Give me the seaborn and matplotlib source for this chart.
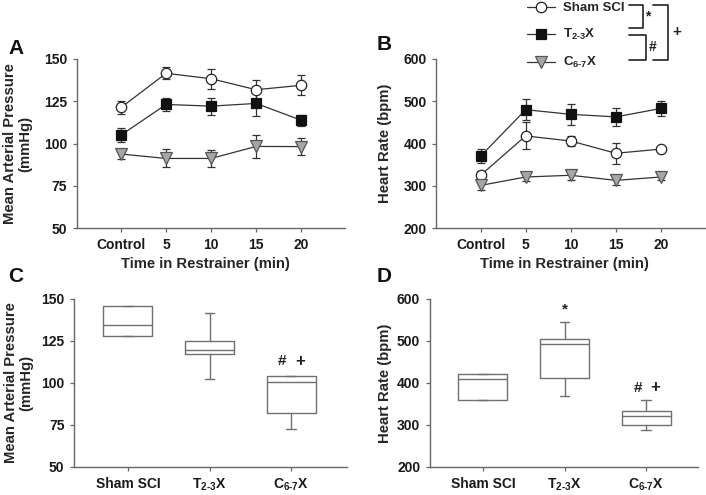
import numpy as np
import pandas as pd
import seaborn as sns
import matplotlib.pyplot as plt
from matplotlib.lines import Line2D

sns.set_style("ticks")
plt.rcParams['font.family'] = ['Liberation Sans', 'DejaVu Sans']
plt.rcParams['font.weight'] = 'bold'
plt.rcParams['mathtext.fontset'] = 'custom'
plt.rcParams['mathtext.rm'] = 'Liberation Sans:bold'
plt.rcParams['mathtext.it'] = 'Liberation Sans:bold'
plt.rcParams['mathtext.bf'] = 'Liberation Sans:bold'
plt.rcParams['mathtext.default'] = 'rm'

# data
times = ["Control", "5", "10", "15", "20"]
groups = ["Sham SCI", r"T$_{2\text{-}3}$X", r"C$_{6\text{-}7}$X"]

map_sham = [121.3, 141.5, 138.3, 131.8, 134.4]
map_sham_err = [3.6, 3.6, 6.0, 5.5, 6.0]
map_t23 = [105.0, 123.1, 122.1, 123.7, 113.8]
map_t23_err = [4.0, 3.8, 5.0, 7.5, 3.2]
map_c67 = [93.8, 91.2, 91.2, 98.3, 98.2]
map_c67_err = [3.2, 5.3, 5.2, 7.0, 4.8]

hr_sham = [325, 418, 406, 377, 387]
hr_sham_err = [10, 32, 11, 25, 5]
hr_t23 = [370, 480, 469, 463, 483]
hr_t23_err = [17, 25, 25, 21, 18]
hr_c67 = [301, 321, 325, 313, 321]
hr_c67_err = [11, 10, 10, 10, 8]

# box summaries: q1, median, q3, lower whisker, upper whisker
box_map_q1 = [128.2, 117.3, 81.9]
box_map_med = [134.4, 119.7, 100.5]
box_map_q3 = [145.6, 124.7, 103.9]
box_map_lo = [128.2, 102.5, 72.8]
box_map_hi = [145.6, 141.5, 104.1]

box_hr_q1 = [360, 411, 300]
box_hr_med = [409, 491.5, 320]
box_hr_q3 = [421, 504, 332]
box_hr_lo = [360, 369, 288]
box_hr_hi = [421, 544, 360]

styles = [
    dict(marker='o', markerfacecolor='white', markeredgecolor='#222222', markersize=7.5),
    dict(marker='s', markerfacecolor='#111111', markeredgecolor='#111111', markersize=6.5),
    dict(marker='v', markerfacecolor='#a6a6a6', markeredgecolor='#555555', markersize=8),
]

fig = plt.figure(figsize=(7.06, 4.95), dpi=100)
axA = fig.add_axes([0.109, 0.539, 0.380, 0.342])
axB = fig.add_axes([0.618, 0.539, 0.381, 0.342])
axC = fig.add_axes([0.105, 0.057, 0.387, 0.339])
axD = fig.add_axes([0.609, 0.057, 0.380, 0.339])

lc = '#333333'
tick_fs = 10
lab_fs = 10.7


def line_panel(ax, series, errs, ylim, yticks, ylabel, ylab_x):
    pos = np.arange(len(times))
    for i, (vals, err) in enumerate(zip(series, errs)):
        ax.errorbar(pos, vals, yerr=err, fmt='none', ecolor=lc, elinewidth=0.9,
                    capsize=2.6, capthick=0.9, zorder=2)
        df = pd.DataFrame({"pos": pos, "val": vals})
        sns.lineplot(data=df, x="pos", y="val", ax=ax, color=lc, linewidth=0.9,
                     errorbar=None, zorder=3 + i, markeredgewidth=0.9, **styles[i])
    ax.set_xlim(-0.98, 4.98)
    ax.set_ylim(*ylim)
    ax.set_yticks(yticks)
    ax.set_xticks(pos)
    ax.set_xticklabels(times)
    ax.set_xlabel("Time in Restrainer (min)", fontsize=lab_fs, fontweight='bold')
    ax.xaxis.set_label_coords(0.478, -0.17)
    ax.set_ylabel(ylabel, fontsize=lab_fs, fontweight='bold', linespacing=1.1)
    ax.yaxis.set_label_coords(ylab_x, 0.5)


def box_panel(ax, q1, med, q3, lo, hi, ylim, yticks, ylabel, ylab_x):
    stats = []
    for i in range(len(groups)):
        stats.append(dict(q1=q1[i], med=med[i], q3=q3[i], whislo=lo[i],
                          whishi=hi[i], fliers=[]))
    bc = '#707070'
    ax.bxp(stats, positions=range(len(groups)), widths=0.6, capwidths=0.12,
           showfliers=False,
           boxprops=dict(color=bc, linewidth=1.0),
           medianprops=dict(color=bc, linewidth=1.0),
           whiskerprops=dict(color=bc, linewidth=1.0),
           capprops=dict(color=bc, linewidth=1.0))
    ax.set_xticks(range(len(groups)))
    ax.set_xticklabels(groups)
    ax.set_ylim(*ylim)
    ax.set_yticks(yticks)
    ax.set_ylabel(ylabel, fontsize=lab_fs, fontweight='bold', linespacing=1.1)
    ax.yaxis.set_label_coords(ylab_x, 0.5)


line_panel(axA, [map_sham, map_t23, map_c67], [map_sham_err, map_t23_err, map_c67_err],
           (50, 150), [50, 75, 100, 125, 150], "Mean Arterial Pressure\n(mmHg)", -0.168)
line_panel(axB, [hr_sham, hr_t23, hr_c67], [hr_sham_err, hr_t23_err, hr_c67_err],
           (200, 600), [200, 300, 400, 500, 600], "Heart Rate (bpm)", -0.164)
box_panel(axC, box_map_q1, box_map_med, box_map_q3, box_map_lo, box_map_hi,
          (50, 150), [50, 75, 100, 125, 150], "Mean Arterial Pressure\n(mmHg)", -0.15)
axC.set_xlim(-0.66, 2.69)
box_panel(axD, box_hr_q1, box_hr_med, box_hr_q3, box_hr_lo, box_hr_hi,
          (200, 600), [200, 300, 400, 500, 600], "Heart Rate (bpm)", -0.142)
axD.set_xlim(-0.65, 2.64)

for ax in [axA, axB, axC, axD]:
    sns.despine(ax=ax)
    for s in ['left', 'bottom']:
        ax.spines[s].set_color('#666666')
        ax.spines[s].set_linewidth(1.0)
    ax.tick_params(axis='both', direction='out', length=3, width=0.9, color='#666666',
                   labelsize=tick_fs, labelcolor='#1a1a1a', pad=4)
    for t in ax.get_xticklabels() + ax.get_yticklabels():
        t.set_fontweight('bold')

# significance marks in the box panels
axC.text(1.89, 112.8, "#", ha='center', va='center', fontsize=11, fontweight='bold', color='#222222')
axC.text(2.11, 112.8, "+", ha='center', va='center', fontsize=12, fontweight='bold', color='#222222')
axD.text(1.0, 575, "*", ha='center', va='center', fontsize=11, fontweight='bold', color='#222222')
axD.text(1.9, 388, "#", ha='center', va='center', fontsize=11, fontweight='bold', color='#222222')
axD.text(2.11, 388, "+", ha='center', va='center', fontsize=12, fontweight='bold', color='#222222')

# legend
handles = [Line2D([], [], color=lc, linewidth=0.9, markeredgewidth=0.9, **st) for st in styles]
fig.legend(handles, groups, loc='upper left', bbox_to_anchor=(527 / 706, 1 - 2 / 495),
           frameon=False, handlelength=2.1, handletextpad=0.6,
           labelspacing=0.98, borderpad=0.0, borderaxespad=0.0,
           prop=dict(weight='bold', size=9.5))

# overlay in pixel units for brackets and panel letters
ov = fig.add_axes([0, 0, 1, 1])
ov.set_xlim(0, 706)
ov.set_ylim(495, 0)
ov.axis('off')
bk = dict(color='#222222', linewidth=1.2)
ov.plot([629, 643, 643, 629], [5, 5, 28, 28], **bk)
ov.plot([629, 646, 646, 629], [35, 35, 60, 60], **bk)
ov.plot([653, 668, 668, 653], [5, 5, 60, 60], **bk)
ov.text(648, 16, "*", ha='center', va='center', fontsize=10, fontweight='bold', color='#222222')
ov.text(653, 47, "#", ha='center', va='center', fontsize=10, fontweight='bold', color='#222222')
ov.text(677, 32, "+", ha='center', va='center', fontsize=11, fontweight='bold', color='#222222')

for letter, x, y in [("A", 8, 48), ("B", 377, 45), ("C", 8, 277), ("D", 377, 277)]:
    ov.text(x, y, letter, ha='left', va='center', fontsize=15, fontweight='bold', color='#111111')

fig.savefig("out.png", dpi=100)
